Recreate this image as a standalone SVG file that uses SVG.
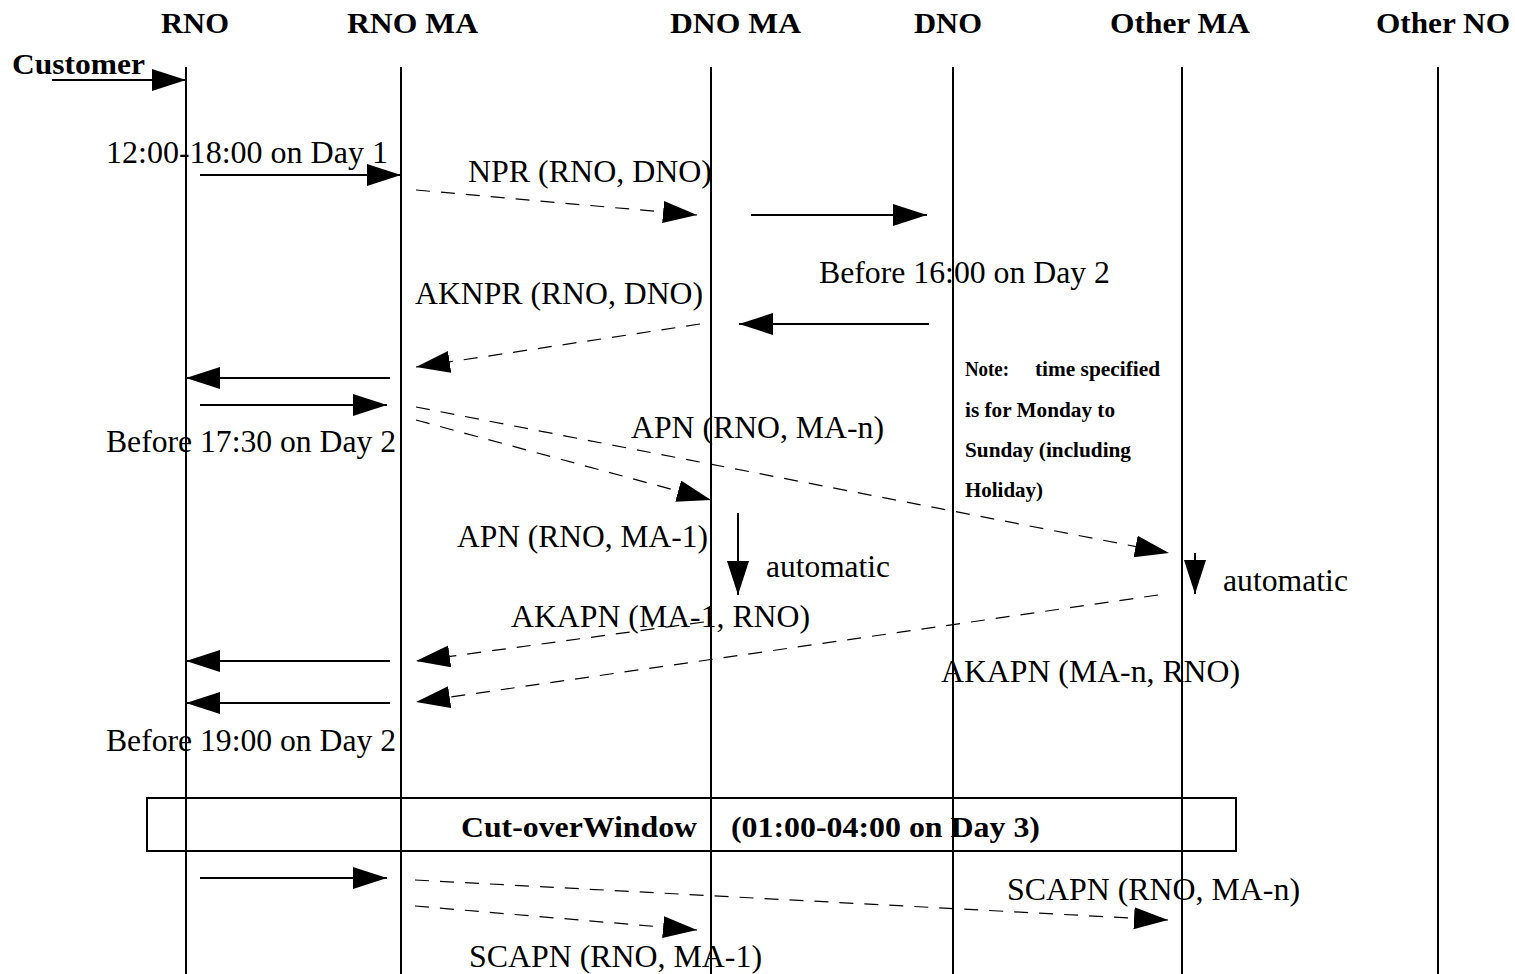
<svg xmlns="http://www.w3.org/2000/svg" width="1515" height="974" viewBox="0 0 1515 974">
<style>
.hd{font-family:"Liberation Serif","Times New Roman",serif;font-weight:bold;font-size:30px;fill:#000}
.tx{font-family:"Liberation Serif","Times New Roman",serif;font-size:32px;fill:#000}
.nt{font-family:"Liberation Serif","Times New Roman",serif;font-weight:bold;font-size:22px;fill:#000}
.life{stroke:#000;stroke-width:2;fill:none}
.sol{stroke:#000;stroke-width:2;fill:none;marker-end:url(#ah)}
.dsh{stroke:#000;stroke-width:1.2;fill:none;stroke-dasharray:14 11;marker-end:url(#ah)}
</style>
<defs>
<marker id="ah" markerUnits="userSpaceOnUse" markerWidth="35" markerHeight="24" refX="34" refY="11" orient="auto">
<path d="M0,0 L34,11 L0,22 Z" fill="#000"/>
</marker>
</defs>
<rect width="1515" height="974" fill="#fff"/>
<g id="lifelines">
<g id="RNO"><text class="hd" x="161" y="33" textLength="68" lengthAdjust="spacingAndGlyphs">RNO</text><line class="life" x1="186" y1="67" x2="186" y2="974"/></g>
<g id="RNO_MA"><text class="hd" x="347" y="33" textLength="131" lengthAdjust="spacingAndGlyphs">RNO MA</text><line class="life" x1="401" y1="67" x2="401" y2="974"/></g>
<g id="DNO_MA"><text class="hd" x="670" y="33" textLength="131" lengthAdjust="spacingAndGlyphs">DNO MA</text><line class="life" x1="711" y1="67" x2="711" y2="974"/></g>
<g id="DNO"><text class="hd" x="914" y="33" textLength="68" lengthAdjust="spacingAndGlyphs">DNO</text><line class="life" x1="953" y1="67" x2="953" y2="974"/></g>
<g id="Other_MA"><text class="hd" x="1110" y="33" textLength="140" lengthAdjust="spacingAndGlyphs">Other MA</text><line class="life" x1="1182" y1="67" x2="1182" y2="974"/></g>
<g id="Other_NO"><text class="hd" x="1376" y="33" textLength="134" lengthAdjust="spacingAndGlyphs">Other NO</text><line class="life" x1="1438" y1="67" x2="1438" y2="974"/></g>
</g>
<g id="Customer"><text class="hd" x="12" y="74" textLength="133" lengthAdjust="spacingAndGlyphs">Customer</text></g>
<g id="note">
<text class="nt" x="965" y="376" textLength="44" lengthAdjust="spacingAndGlyphs">Note:</text>
<text class="nt" x="1035" y="376" textLength="125" lengthAdjust="spacingAndGlyphs">time specified</text>
<text class="nt" x="965" y="417" textLength="150" lengthAdjust="spacingAndGlyphs">is for Monday to</text>
<text class="nt" x="965" y="457" textLength="166" lengthAdjust="spacingAndGlyphs">Sunday (including</text>
<text class="nt" x="965" y="497" textLength="78" lengthAdjust="spacingAndGlyphs">Holiday)</text>
</g>
<g id="cutover">
<rect x="147" y="798" width="1089" height="53" fill="none" stroke="#000" stroke-width="2"/>
<text class="hd" x="461" y="837" textLength="236" lengthAdjust="spacingAndGlyphs">Cut-overWindow</text>
<text class="hd" x="731" y="837" textLength="309" lengthAdjust="spacingAndGlyphs">(01:00-04:00 on Day 3)</text>
</g>
<g id="connectors">
<line class="sol" x1="52" y1="80" x2="186" y2="80"/>
<line class="sol" x1="200" y1="175" x2="401" y2="175"/>
<line class="dsh" x1="416" y1="190" x2="697" y2="215"/>
<line class="sol" x1="751" y1="215" x2="927" y2="215"/>
<line class="sol" x1="929" y1="324" x2="739" y2="324"/>
<line class="dsh" x1="700" y1="324" x2="416" y2="367"/>
<line class="sol" x1="390" y1="378" x2="186" y2="378"/>
<line class="sol" x1="200" y1="405" x2="387" y2="405"/>
<line class="dsh" x1="416" y1="407" x2="1169" y2="553"/>
<line class="dsh" x1="416" y1="420" x2="711" y2="500"/>
<line class="sol" x1="738" y1="513" x2="738" y2="595"/>
<line class="sol" x1="1195" y1="553" x2="1195" y2="594"/>
<line class="dsh" x1="704" y1="622" x2="416" y2="661"/>
<line class="dsh" x1="1158" y1="595" x2="416" y2="702"/>
<line class="sol" x1="390" y1="661" x2="186" y2="661"/>
<line class="sol" x1="390" y1="703" x2="186" y2="703"/>
<line class="sol" x1="200" y1="878" x2="387" y2="878"/>
<line class="dsh" x1="415" y1="880" x2="1168" y2="920"/>
<line class="dsh" x1="415" y1="906" x2="697" y2="930"/>
</g>
<g id="labels">
<text class="tx" x="106" y="163" textLength="282" lengthAdjust="spacingAndGlyphs">12:00-18:00 on Day 1</text>
<text class="tx" x="468" y="182" textLength="244" lengthAdjust="spacingAndGlyphs">NPR (RNO, DNO)</text>
<text class="tx" x="819" y="283" textLength="291" lengthAdjust="spacingAndGlyphs">Before 16:00 on Day 2</text>
<text class="tx" x="415" y="304" textLength="288" lengthAdjust="spacingAndGlyphs">AKNPR (RNO, DNO)</text>
<text class="tx" x="631" y="438" textLength="253" lengthAdjust="spacingAndGlyphs">APN (RNO, MA-n)</text>
<text class="tx" x="106" y="452" textLength="290" lengthAdjust="spacingAndGlyphs">Before 17:30 on Day 2</text>
<text class="tx" x="457" y="547" textLength="251" lengthAdjust="spacingAndGlyphs">APN (RNO, MA-1)</text>
<text class="tx" x="766" y="577" textLength="124" lengthAdjust="spacingAndGlyphs">automatic</text>
<text class="tx" x="1223" y="591" textLength="125" lengthAdjust="spacingAndGlyphs">automatic</text>
<text class="tx" x="511" y="627" textLength="299" lengthAdjust="spacingAndGlyphs">AKAPN (MA-1, RNO)</text>
<text class="tx" x="941" y="682" textLength="299" lengthAdjust="spacingAndGlyphs">AKAPN (MA-n, RNO)</text>
<text class="tx" x="106" y="751" textLength="290" lengthAdjust="spacingAndGlyphs">Before 19:00 on Day 2</text>
<text class="tx" x="1007" y="900" textLength="293" lengthAdjust="spacingAndGlyphs">SCAPN (RNO, MA-n)</text>
<text class="tx" x="469" y="967" textLength="293" lengthAdjust="spacingAndGlyphs">SCAPN (RNO, MA-1)</text>
</g>
</svg>
